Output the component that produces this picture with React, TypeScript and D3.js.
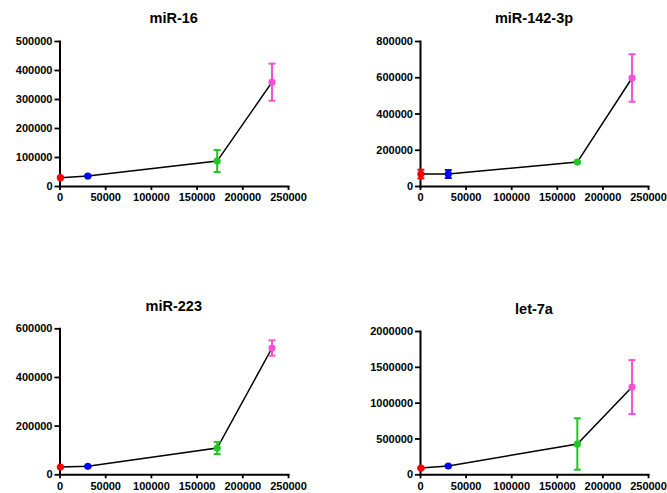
import React, { useEffect, useRef } from 'react';
import * as d3 from 'd3';

// x positions shared by all four panels
const xValues = [1000, 31000, 172500, 232500];
const xTicks = [0, 50000, 100000, 150000, 200000, 250000];
const pointColors = ['#ff0000', '#0000ff', '#1ec81e', '#f550d8'];

const titles = ['miR-16', 'miR-142-3p', 'miR-223', 'let-7a'];

const mir16Means = [28600, 34500, 86000, 358000];
const mir16Errors = [1500, 1500, 38000, 64000];
const mir16Ticks = [0, 100000, 200000, 300000, 400000, 500000];

const mir142Means = [66000, 66000, 132000, 596000];
const mir142Errors = [24000, 22000, 4000, 131000];
const mir142Ticks = [0, 200000, 400000, 600000, 800000];

const mir223Means = [30000, 32900, 108000, 519000];
const mir223Errors = [1500, 1500, 25000, 31500];
const mir223Ticks = [0, 200000, 400000, 600000];

const let7aMeans = [88000, 116000, 423000, 1218000];
const let7aErrors = [5000, 5000, 359000, 376000];
const let7aTicks = [0, 500000, 1000000, 1500000, 2000000];

const means = [mir16Means, mir142Means, mir223Means, let7aMeans];
const errors = [mir16Errors, mir142Errors, mir223Errors, let7aErrors];
const yTicks = [mir16Ticks, mir142Ticks, mir223Ticks, let7aTicks];

// pixel layout of each panel
const layout = [
    { left: 59.5, right: 288, top: 41, bottom: 186, titleY: 23 },
    { left: 420, right: 648, top: 41, bottom: 186, titleY: 23 },
    { left: 59.5, right: 288, top: 328.3, bottom: 474.3, titleY: 311 },
    { left: 420, right: 648, top: 331, bottom: 474.3, titleY: 314 },
];

const font = '"Liberation Sans", Arial, sans-serif';

export default function App() {
    const svgRef = useRef<SVGSVGElement>(null);

    useEffect(() => {
        const svg = d3.select(svgRef.current);
        svg.selectAll('*').remove();

        titles.forEach((title, p) => {
            const box = layout[p];
            const ticks = yTicks[p];
            const g = svg.append('g');

            const x = d3.scaleLinear().domain([0, 250000]).range([box.left, box.right]);
            const y = d3.scaleLinear().domain([0, ticks[ticks.length - 1]]).range([box.bottom, box.top]);

            // title
            g.append('text')
                .attr('x', (box.left + box.right) / 2)
                .attr('y', box.titleY)
                .attr('text-anchor', 'middle')
                .style('font-family', font)
                .style('font-weight', 'bold')
                .style('font-size', '14.5px')
                .text(title);

            // axes
            const xAxis = g.append('g')
                .attr('transform', `translate(0,${box.bottom})`)
                .call(d3.axisBottom(x).tickValues(xTicks).tickSize(4).tickSizeOuter(0).tickPadding(3.5).tickFormat(d3.format('d')));

            const yAxis = g.append('g')
                .attr('transform', `translate(${box.left},0)`)
                .call(d3.axisLeft(y).tickValues(ticks).tickSize(5).tickSizeOuter(0).tickPadding(2).tickFormat(d3.format('d')));

            [xAxis, yAxis].forEach((axis) => {
                axis.attr('font-family', font).attr('font-size', 11).attr('font-weight', 'bold');
                axis.selectAll('path').attr('stroke', '#000').attr('stroke-width', 2).attr('stroke-linecap', 'square');
                axis.selectAll('line').attr('stroke', '#000').attr('stroke-width', 1.8);
                axis.selectAll('text').attr('fill', '#000');
            });

            const pts = xValues.map((xv, i) => ({ x: xv, y: means[p][i], e: errors[p][i], c: pointColors[i] }));

            // connecting line
            g.append('path')
                .datum(pts)
                .attr('fill', 'none')
                .attr('stroke', '#000')
                .attr('stroke-width', 1.5)
                .attr('d', d3.line<any>().x(d => x(d.x)).y(d => y(d.y)));

            // error bars
            const eb = g.selectAll('.eb').data(pts).enter().append('g')
                .attr('stroke', d => d.c)
                .attr('stroke-width', 2);
            eb.append('line')
                .attr('x1', d => x(d.x)).attr('x2', d => x(d.x))
                .attr('y1', d => y(d.y - d.e)).attr('y2', d => y(d.y + d.e));
            eb.append('line')
                .attr('x1', d => x(d.x) - 3.5).attr('x2', d => x(d.x) + 3.5)
                .attr('y1', d => y(d.y + d.e)).attr('y2', d => y(d.y + d.e));
            eb.append('line')
                .attr('x1', d => x(d.x) - 3.5).attr('x2', d => x(d.x) + 3.5)
                .attr('y1', d => y(d.y - d.e)).attr('y2', d => y(d.y - d.e));

            // dots
            g.selectAll('circle').data(pts).enter().append('circle')
                .attr('cx', d => x(d.x))
                .attr('cy', d => y(d.y))
                .attr('r', 3.6)
                .attr('fill', d => d.c);
        });
    }, []);

    return (
        <svg
            ref={svgRef}
            width={667}
            height={493}
            style={{ position: 'absolute', left: 0, top: 0, background: '#fff' }}
        />
    );
}
